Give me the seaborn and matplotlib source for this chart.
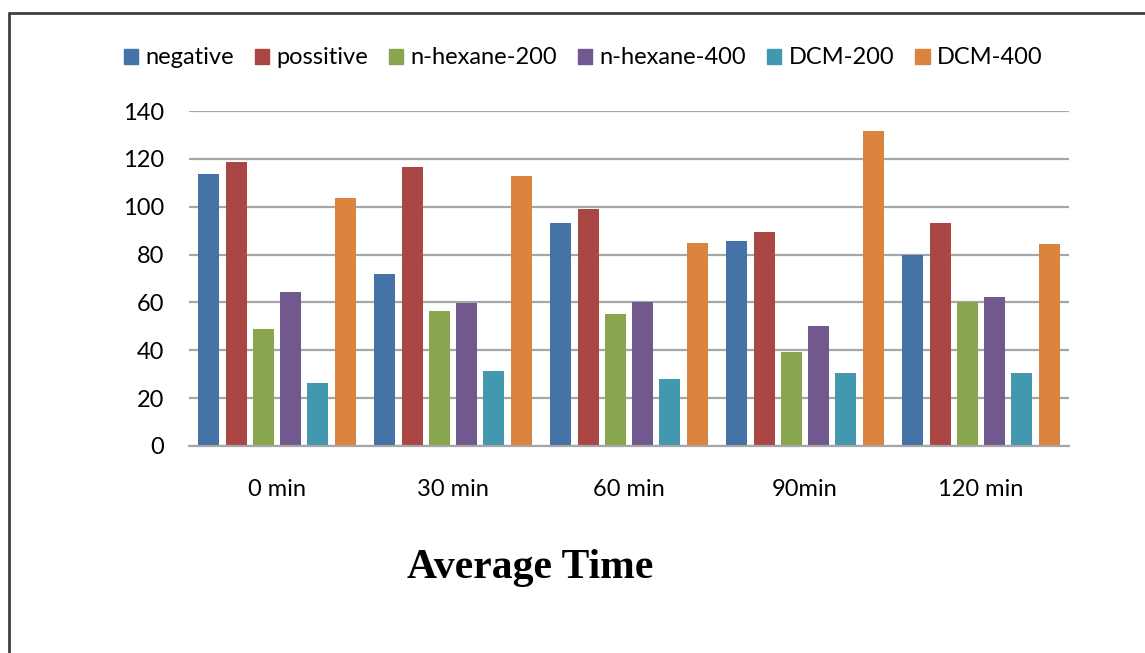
import matplotlib
matplotlib.use("Agg")
import matplotlib.pyplot as plt
from matplotlib.lines import Line2D
import seaborn as sns
import pandas as pd

categories = ["0 min", "30 min", "60 min", "90min", "120 min"]
series = ["negative", "possitive", "n-hexane-200", "n-hexane-400", "DCM-200", "DCM-400"]
negative = [113.5, 71.9, 93.1, 85.7, 79.7]
possitive = [118.8, 116.6, 99.2, 89.4, 93.1]
nhexane200 = [48.9, 56.4, 55.2, 39.2, 60.2]
nhexane400 = [64.5, 59.9, 60.2, 50.3, 62.4]
dcm200 = [26.2, 31.5, 27.9, 30.6, 30.4]
dcm400 = [103.8, 113.0, 84.8, 131.5, 84.4]
yticks = [0, 20, 40, 60, 80, 100, 120, 140]
colors = ["#4572A7", "#AA4643", "#89A54E", "#71588F", "#4198AF", "#DB843D"]

values = [negative, possitive, nhexane200, nhexane400, dcm200, dcm400]
rows = []
for s, vals in zip(series, values):
    for c, v in zip(categories, vals):
        rows.append({"time": c, "series": s, "value": v})
df = pd.DataFrame(rows)

sns.set_theme(style="white")
plt.rcParams['font.family'] = ['Lato', 'DejaVu Sans']
plt.rcParams['text.color'] = 'black'

fig = plt.figure(figsize=(11.45, 6.53), dpi=100)
W, H = 1145, 653
ax = fig.add_axes([189 / W, 1 - 446 / H, (1069 - 189) / W, (446 - 111) / H])

sns.barplot(data=df, x="time", y="value", hue="series", order=categories,
            hue_order=series, palette=colors, width=0.93, gap=0.23,
            saturation=1, ax=ax, legend=False, edgecolor="none")

ax.set_ylim(0, 140)
ax.set_xlim(-0.5, len(categories) - 0.5)
ax.set_yticks(yticks)
ax.set_yticklabels([str(t) for t in yticks])
ax.yaxis.grid(True, color="#A6A6A6", linewidth=1.6)
ax.set_axisbelow(True)
for sp in ["top", "right", "left"]:
    ax.spines[sp].set_visible(False)
ax.spines["bottom"].set_color("#A6A6A6")
ax.spines["bottom"].set_linewidth(1.6)
ax.tick_params(axis="y", length=0, pad=18, labelsize=17, labelcolor="black")
ax.tick_params(axis="x", length=0, pad=24, labelsize=17, labelcolor="black")
ax.set_xlabel("")
ax.set_ylabel("")

handles = [plt.Rectangle((0, 0), 1, 1, color=c) for c in colors]
fig.legend(handles, series, loc="center", bbox_to_anchor=(583 / W, 1 - 58 / H),
           ncol=6, frameon=False, fontsize=17, handlelength=0.6, handleheight=0.6,
           handletextpad=0.3, columnspacing=0.9, labelcolor="black")

fig.text(530 / W, 1 - 568 / H, "Average Time", ha="center", va="center",
         fontsize=30, fontweight="bold", family="Liberation Serif", color="black")

# chart border (top and left edges visible)
fig.add_artist(Line2D([9 / W, 1.0], [1 - 13 / H, 1 - 13 / H], transform=fig.transFigure,
                      color="#404040", linewidth=2))
fig.add_artist(Line2D([9 / W, 9 / W], [0.0, 1 - 13 / H], transform=fig.transFigure,
                      color="#404040", linewidth=2))

fig.savefig("out.png", dpi=100)
